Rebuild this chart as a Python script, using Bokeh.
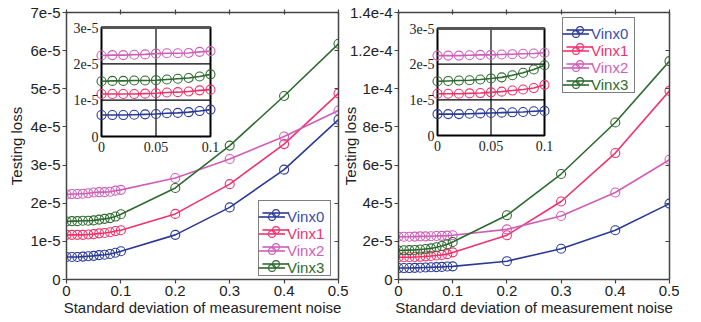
import numpy as np
from bokeh.plotting import figure
from bokeh.layouts import row
from bokeh.models import (Range1d, LinearAxis, FixedTicker, CustomJSTickFormatter,
                          Legend, LegendItem, CustomLabelingPolicy)
from bokeh.embed import file_html
from bokeh.resources import INLINE

# ---------------- data ----------------
noise = [0, 0.01, 0.02, 0.03, 0.04, 0.05, 0.06, 0.07, 0.08, 0.09, 0.1, 0.2, 0.3, 0.4, 0.5]
series_names = ["Vinx0", "Vinx1", "Vinx2", "Vinx3"]

# left panel, testing loss in units of 1e-5
left_vinx0 = [0.59, 0.59, 0.59, 0.60, 0.61, 0.62, 0.64, 0.65, 0.67, 0.70, 0.74, 1.17, 1.89, 2.88, 4.19]
left_vinx1 = [1.17, 1.17, 1.17, 1.17, 1.18, 1.19, 1.21, 1.22, 1.24, 1.27, 1.29, 1.72, 2.50, 3.55, 4.88]
left_vinx2 = [2.23, 2.24, 2.24, 2.25, 2.26, 2.28, 2.29, 2.29, 2.30, 2.33, 2.35, 2.66, 3.16, 3.75, 4.43]
left_vinx3 = [1.52, 1.53, 1.53, 1.54, 1.54, 1.55, 1.57, 1.59, 1.61, 1.65, 1.71, 2.40, 3.51, 4.81, 6.18]

# right panel, testing loss in units of 1e-5
right_vinx0 = [0.60, 0.60, 0.60, 0.61, 0.62, 0.63, 0.64, 0.65, 0.66, 0.68, 0.69, 0.96, 1.61, 2.58, 3.98]
right_vinx1 = [1.17, 1.17, 1.17, 1.18, 1.19, 1.21, 1.23, 1.26, 1.29, 1.33, 1.42, 2.32, 4.09, 6.63, 9.89]
right_vinx2 = [2.24, 2.24, 2.24, 2.25, 2.26, 2.26, 2.27, 2.28, 2.29, 2.30, 2.32, 2.63, 3.33, 4.56, 6.28]
right_vinx3 = [1.52, 1.53, 1.54, 1.55, 1.57, 1.60, 1.63, 1.69, 1.76, 1.85, 1.97, 3.37, 5.53, 8.23, 11.45]

x_ticks = [0, 0.1, 0.2, 0.3, 0.4, 0.5]
left_y_ticks = [0, 1e-5, 2e-5, 3e-5, 4e-5, 5e-5, 6e-5, 7e-5]
right_y_ticks = [0, 2e-5, 4e-5, 6e-5, 8e-5, 1e-4, 1.2e-4, 1.4e-4]
inset_x_ticks = [0, 0.05, 0.1]
inset_x_labels = ["0", "0.05", "0.1"]
inset_y_ticks = [0, 1e-5, 2e-5, 3e-5]
inset_y_labels = ["0", "1e-5", "2e-5", "3e-5"]

line_colors = ["#2B3A98", "#F2316B", "#CF5EB8", "#2D6A2F"]
text_colors = ["#3A4DB0", "#F2316B", "#CF5EB8", "#2D6A2F"]

FONT = "Liberation Sans"
FH = 267

yfmt = CustomJSTickFormatter(code="""
if (Math.abs(tick) < 1e-15) { return "0"; }
return Number(tick.toPrecision(3)).toExponential();
""")
xfmt = CustomJSTickFormatter(code="return String(Number(tick.toPrecision(3)));")
no_labels = CustomLabelingPolicy(code="""
for (const i of Array.from(indices)) { indices.unset(i); }
return indices;
""")


def style_axis(ax, out=4, inn=0, show_labels=True):
    ax.major_tick_out = out
    ax.major_tick_in = inn
    ax.minor_tick_out = 0
    ax.minor_tick_in = 0
    ax.axis_line_color = "#444444"
    ax.axis_line_width = 1.5
    ax.major_tick_line_color = "#444444"
    ax.major_tick_line_width = 1.2
    ax.major_label_text_font = FONT
    ax.major_label_text_color = "#222222"
    ax.axis_label_text_font = FONT
    ax.axis_label_text_font_size = "15px"
    ax.axis_label_text_font_style = "normal"
    ax.axis_label_text_color = "#222222"
    if show_labels:
        ax.major_label_text_font_size = "15px"
        ax.major_label_standoff = 2
    else:
        ax.major_label_text_font_size = "0px"
        ax.major_label_standoff = 0
        ax.major_label_policy = no_labels


def make_panel(series, y_ticks, min_left, min_right, ylabel_standoff, inset_frac,
               legend_loc, fw, **extra):
    p = figure(frame_width=fw, frame_height=FH,
               x_range=Range1d(x_ticks[0], x_ticks[-1]),
               y_range=Range1d(y_ticks[0], y_ticks[-1]),
               output_backend="svg", toolbar_location=None,
               min_border_left=min_left, min_border_right=min_right,
               min_border_top=12, min_border_bottom=0, **extra)
    p.xgrid.visible = False
    p.ygrid.visible = False
    p.outline_line_color = None
    p.background_fill_color = "white"
    p.border_fill_color = None

    p.xaxis.ticker = FixedTicker(ticks=x_ticks)
    p.xaxis.formatter = xfmt
    p.yaxis.ticker = FixedTicker(ticks=y_ticks)
    p.yaxis.formatter = yfmt
    style_axis(p.xaxis[0])
    style_axis(p.yaxis[0])
    p.xaxis.axis_label = "Standard deviation of measurement noise"
    p.yaxis.axis_label = "Testing loss"
    p.xaxis.axis_label_standoff = 0
    p.yaxis.axis_label_standoff = ylabel_standoff

    top = LinearAxis(ticker=FixedTicker(ticks=x_ticks))
    style_axis(top, out=3, inn=2, show_labels=False)
    p.add_layout(top, "above")
    right = LinearAxis(ticker=FixedTicker(ticks=y_ticks))
    style_axis(right, out=0, inn=4, show_labels=False)
    p.add_layout(right, "right")

    # main series
    renderers = []
    for vals, col in zip(series, line_colors):
        y = np.array(vals) * 1e-5
        l = p.line(noise, y, line_color=col, line_width=1.6)
        s = p.scatter(noise, y, marker="circle", size=9, fill_color=None,
                      line_color=col, line_width=1.1)
        renderers.append((l, s))

    # inset coordinate system mapped onto a sub-box of the frame
    fl, fr, fb, ft = inset_frac
    xspan = (inset_x_ticks[-1] - inset_x_ticks[0]) / (fr - fl)
    xs0 = inset_x_ticks[0] - fl * xspan
    yspan = (inset_y_ticks[-1] - inset_y_ticks[0]) / (ft - fb)
    ys0 = inset_y_ticks[0] - fb * yspan
    p.extra_x_ranges = {"ix": Range1d(xs0, xs0 + xspan)}
    p.extra_y_ranges = {"iy": Range1d(ys0, ys0 + yspan)}
    kw = dict(x_range_name="ix", y_range_name="iy")

    x_lo, x_hi = inset_x_ticks[0], inset_x_ticks[-1]
    y_lo, y_hi = inset_y_ticks[0], inset_y_ticks[-1]
    p.quad(left=[x_lo], right=[x_hi], bottom=[y_lo], top=[y_hi],
           fill_color="white", line_color="black", line_width=2, **kw)
    gx = inset_x_ticks[1:-1]
    p.segment(x0=gx, x1=gx, y0=[y_lo] * len(gx), y1=[y_hi] * len(gx),
              line_color="black", line_width=1.2, **kw)
    gy = inset_y_ticks[1:-1]
    p.segment(x0=[x_lo] * len(gy), x1=[x_hi] * len(gy), y0=gy, y1=gy,
              line_color="black", line_width=1.2, **kw)
    p.segment(x0=[x_lo], x1=[x_hi], y0=[y_hi], y1=[y_hi],
              line_color="#555555", line_width=3, **kw)

    n_in = noise.index(x_hi) + 1
    for vals, col in zip(series, line_colors):
        y = np.array(vals[:n_in]) * 1e-5
        p.line(noise[:n_in], y, line_color=col, line_width=1.6, **kw)
        p.scatter(noise[:n_in], y, marker="circle", size=9, fill_color=None,
                  line_color=col, line_width=1.1, **kw)

    p.text(x=[x_lo] * len(inset_y_ticks), y=inset_y_ticks, text=inset_y_labels,
           x_offset=-3, text_align="right", text_baseline="middle",
           text_font=FONT, text_font_size="14px", text_color="#222222", **kw)
    p.text(x=inset_x_ticks, y=[y_lo] * len(inset_x_ticks), text=inset_x_labels,
           y_offset=5, text_align="center", text_baseline="top",
           text_font=FONT, text_font_size="14px", text_color="#222222", **kw)

    # legend: a framed box with blank labels, plus one coloured legend per row
    H, P = 17, 3
    common = dict(padding=P, margin=0, spacing=0, glyph_width=27, glyph_height=H,
                  label_height=H, label_width=36, label_standoff=2,
                  label_text_font=FONT, label_text_font_size="15px")
    lx, ly = legend_loc
    box = Legend(items=[LegendItem(label=" ", renderers=list(r)) for r in renderers],
                 location=(lx, ly), border_line_color="black", border_line_width=1.5,
                 background_fill_color="white", background_fill_alpha=1, **common)
    p.add_layout(box)
    n = len(renderers)
    for i, (name, r, tc) in enumerate(zip(series_names, renderers, text_colors)):
        lg = Legend(items=[LegendItem(label=name, renderers=list(r))],
                    location=(lx, ly + (n - 1 - i) * H), border_line_color=None,
                    background_fill_alpha=0, label_text_color=tc, **common)
        p.add_layout(lg)
    return p


p1 = make_panel([left_vinx0, left_vinx1, left_vinx2, left_vinx3], left_y_ticks,
                min_left=66, min_right=10, ylabel_standoff=2,
                inset_frac=(35 / 272, 144 / 272, 143 / 267, 252 / 267),
                legend_loc=(192, 3), fw=272)
p2 = make_panel([right_vinx0, right_vinx1, right_vinx2, right_vinx3], right_y_ticks,
                min_left=40, min_right=10, ylabel_standoff=-12,
                inset_frac=(39 / 271, 146 / 271, 144 / 267, 251 / 267),
                legend_loc=(164, 186), fw=271, margin=(0, 0, 0, -10))

layout = row(p1, p2, spacing=0)
open("out.html", "w").write(file_html(layout, INLINE))
